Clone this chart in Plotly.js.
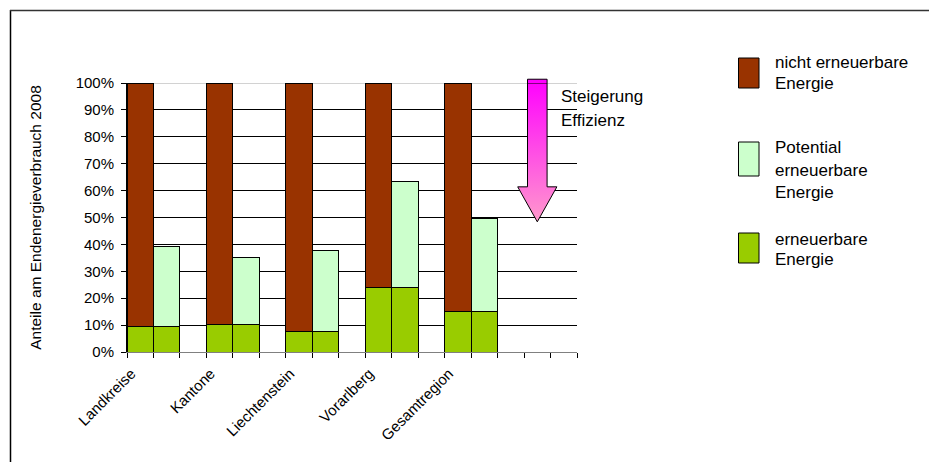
<!DOCTYPE html>
<html><head><meta charset="utf-8">
<script src="https://cdn.plot.ly/plotly-3.0.1.min.js"></script>
<style>body{margin:0;background:#fff}#chart{width:929px;height:462px}</style>
</head><body><div id="chart"></div>
<script>
// ---- data ----
const regions = ['Landkreise', 'Kantone', 'Liechtenstein', 'Vorarlberg', 'Gesamtregion'];
const erneuerbar = [9.5, 10.1, 7.5, 23.9, 15.0];          // erneuerbare Energie (%)
const nichtErneuerbar = [90.5, 89.9, 92.5, 76.1, 85.0];   // nicht erneuerbare Energie (%)
const potential = [29.8, 25.0, 30.3, 39.4, 34.6];         // Potential erneuerbare Energie (%)
const yTickVals = [0, 10, 20, 30, 40, 50, 60, 70, 80, 90, 100];
const yTickText = ['0%', '10%', '20%', '30%', '40%', '50%', '60%', '70%', '80%', '90%', '100%'];
const seriesNames = ['nicht erneuerbare Energie', 'Potential erneuerbare Energie', 'erneuerbare Energie'];
const arrowLabel = ['Steigerung', 'Effizienz'];
const yTitle = 'Anteile am Endenergieverbrauch 2008';

// ---- colours / layout ----
const C_BROWN = '#993300', C_LIGHT = '#CCFFCC', C_GREEN = '#99CC00';
const FONT = 'Liberation Sans, Arial, sans-serif';
const W = 929, H = 462;
const M = {l: 127, r: 352, t: 83, b: 110};
const PW = W - M.l - M.r, PH = H - M.t - M.b;
const nSlots = 17; // 3 slots per region + empty slots at the end
const px2x = p => (p - M.l) / PW;
const py2y = p => 1 - (p - M.t) / PH;
const dx2paper = x => (x + 0.5) / nSlots;
const dy2paper = y => y / 100;

const xFirst = regions.map((_, i) => 3 * i);
const xSecond = regions.map((_, i) => 3 * i + 1);
const outline = {color: '#000', width: 1};

const traces = [
  {type: 'bar', name: seriesNames[2], x: xFirst.flatMap((x, i) => [x, xSecond[i]]),
   y: erneuerbar.flatMap(v => [v, v]), width: 1,
   marker: {color: C_GREEN, line: outline}, hoverinfo: 'skip'},
  {type: 'bar', name: seriesNames[0], x: xFirst, y: nichtErneuerbar, width: 1,
   marker: {color: C_BROWN, line: outline}, hoverinfo: 'skip'},
  {type: 'bar', name: seriesNames[1], x: xSecond, y: potential, width: 1,
   marker: {color: C_LIGHT, line: outline}, hoverinfo: 'skip'}
];

// Efficiency arrow (decoration) in data units
const aCx = 15.0, aShaft = 0.37, aHead = 0.74, aTop = 101.4, aNeck = 61.4, aTip = 48.4;
traces.push({
  type: 'scatter', mode: 'lines', fill: 'toself', hoverinfo: 'skip', showlegend: false,
  x: [aCx - aShaft, aCx + aShaft, aCx + aShaft, aCx + aHead, aCx, aCx - aHead, aCx - aShaft, aCx - aShaft],
  y: [100, 100, aNeck, aNeck, aTip, aNeck, aNeck, 100],
  line: {color: '#000', width: 1},
  fillcolor: '#FF66DD',
  fillgradient: {type: 'vertical', start: aTip, stop: aTop, colorscale: [[0, '#FF99CC'], [1, '#FF00FF']]}
});

const shapes = [
  // grey top gridline at 100%
  {type: 'line', xref: 'paper', yref: 'y', x0: 0, x1: 1, y0: 100, y1: 100,
   line: {color: '#A6A6A6', width: 1}, layer: 'between'},
  // chart-area border (left + top)
  {type: 'line', xref: 'paper', yref: 'paper', x0: px2x(10.5), x1: px2x(10.5), y0: py2y(10), y1: py2y(470),
   line: {color: '#000', width: 1.5}},
  {type: 'line', xref: 'paper', yref: 'paper', x0: px2x(10), x1: px2x(935), y0: py2y(10.5), y1: py2y(10.5),
   line: {color: '#333', width: 1.5}},
  // arrow part that sticks out above the plot area (paper refs are not clipped)
  {type: 'path', xref: 'paper', yref: 'paper', layer: 'above',
   path: 'M' + dx2paper(aCx - aShaft) + ',' + dy2paper(100) +
         ' L' + dx2paper(aCx - aShaft) + ',' + dy2paper(aTop) +
         ' L' + dx2paper(aCx + aShaft) + ',' + dy2paper(aTop) +
         ' L' + dx2paper(aCx + aShaft) + ',' + dy2paper(100),
   fillcolor: '#FF00FF', line: {color: '#000', width: 1}}
];

// manual legend (tall rectangles as in the reference)
const legendBoxes = [[58, 88, C_BROWN], [142, 176, C_LIGHT], [233, 263, C_GREEN]];
legendBoxes.forEach(([t, b, c]) => shapes.push({
  type: 'rect', xref: 'paper', yref: 'paper', x0: px2x(738.5), x1: px2x(759), y0: py2y(b), y1: py2y(t),
  fillcolor: c, line: {color: '#000', width: 1}
}));
const legendLines = [
  ['nicht erneuerbare', 62], ['Energie', 83],
  ['Potential', 147], ['erneuerbare', 170], ['Energie', 192],
  ['erneuerbare', 239], ['Energie', 259]
];
const annotations = legendLines.map(([t, y]) => ({
  text: t, xref: 'paper', yref: 'paper', x: px2x(773), y: py2y(y), xanchor: 'left', yanchor: 'middle',
  showarrow: false, font: {family: FONT, size: 17, color: '#000'}
}));
arrowLabel.forEach((t, i) => annotations.push({
  text: t, xref: 'paper', yref: 'paper', x: px2x(559), y: py2y(97 + 23 * i), xanchor: 'left', yanchor: 'middle',
  showarrow: false, font: {family: FONT, size: 17, color: '#000'}
}));

const layout = {
  width: W, height: H, autosize: false, margin: M,
  paper_bgcolor: '#fff', plot_bgcolor: '#fff',
  barmode: 'stack', bargap: 0, showlegend: false,
  font: {family: FONT, color: '#000'},
  xaxis: {
    range: [-0.5, nSlots - 0.5], fixedrange: true, showgrid: false, zeroline: false,
    tickmode: 'array', tickvals: xFirst, ticktext: regions, ticks: '', tickangle: -45,
    tickfont: {family: FONT, size: 15, color: '#000'},
    ticklabelshift: -9, ticklabelstandoff: 6,
    showline: true, linecolor: '#808080', linewidth: 1,
    minor: {tickmode: 'linear', tick0: -0.5, dtick: 1, ticks: 'outside', ticklen: 5,
            tickcolor: '#000', tickwidth: 1, showgrid: false}
  },
  yaxis: {
    range: [0, 100], fixedrange: true, tickmode: 'array', tickvals: yTickVals, ticktext: yTickText,
    ticks: 'outside', ticklen: 5, tickcolor: '#000', showline: true, linecolor: '#000', linewidth: 1,
    showgrid: true, gridcolor: '#000', gridwidth: 1, zeroline: false,
    tickfont: {family: FONT, size: 15, color: '#000'},
    ticklabelstandoff: 4,
    automargin: true,
    title: {text: yTitle, standoff: 30, font: {family: FONT, size: 15.5, color: '#000'}}
  },
  shapes: shapes, annotations: annotations
};

Plotly.newPlot('chart', traces, layout, {staticPlot: true, displayModeBar: false});
</script>
</body></html>
